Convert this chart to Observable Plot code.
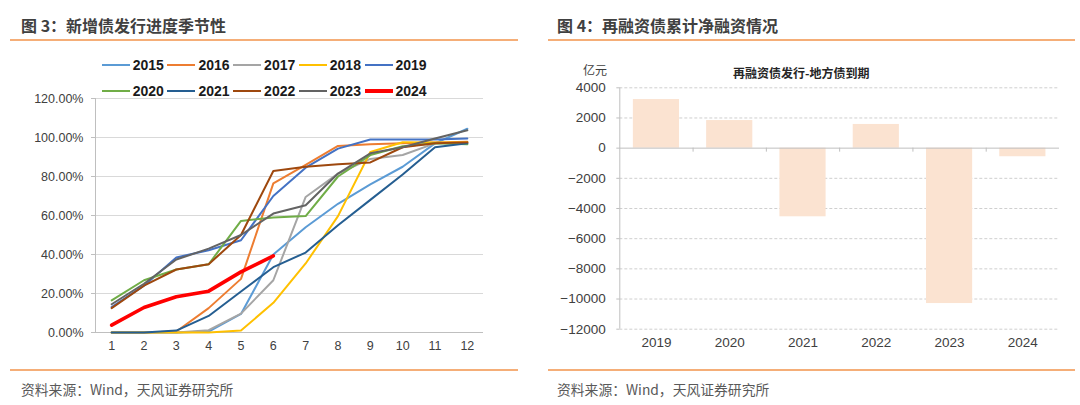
<!DOCTYPE html>
<html><head><meta charset="utf-8">
<script src="https://cdn.jsdelivr.net/npm/d3@7"></script>
<script src="https://cdn.jsdelivr.net/npm/@observablehq/plot@0.6"></script>
<style>
body{margin:0;background:#fff;}
#wrap{position:relative;width:1080px;height:405px;overflow:hidden;font-family:"Liberation Sans","Noto Sans CJK SC",sans-serif;}
.abs{position:absolute;white-space:nowrap;}
.title{font-family:"Noto Sans CJK SC",sans-serif;font-weight:700;font-size:16px;line-height:20px;color:#404040;}
.src{font-family:"Noto Sans CJK SC",sans-serif;font-size:13.8px;line-height:18px;color:#595959;}
.hr{position:absolute;height:2px;background:#F5AE78;}
.leg{position:absolute;display:flex;align-items:center;height:20px;}
.leg .sw{width:28px;margin-right:3px;}
.leg span{font-weight:700;font-size:14px;color:#1a1a1a;}
</style></head><body><div id="wrap"></div>
<script>
// ---------- Left chart data (cumulative issuance progress, %) ----------
const months = [1,2,3,4,5,6,7,8,9,10,11,12];
const seriesYears = ["2015","2016","2017","2018","2019","2020","2021","2022","2023","2024"];
const seriesColors = ["#5B9BD5","#ED7D31","#A5A5A5","#FFC000","#4472C4","#70AD47","#255E91","#9E480E","#636363","#FF0000"];
const v2015 = [0,0,0,0.5,9.5,40,54,66,76,85,97,104.5];
const v2016 = [0,0,0.5,12.5,27.5,76.5,86,95.7,96.6,97,97.5,97.8];
const v2017 = [0,0,0,1.2,9.7,26.8,69.5,81.5,89,91,97,97];
const v2018 = [0,0,0,0,1,15.2,35.4,59.7,92.6,97.6,97.5,97.5];
const v2019 = [13,24,38.5,42.2,47.3,70,84.5,94.3,99,99,99,99.5];
const v2020 = [16.5,26.8,32.3,35,57.2,59,59.7,80,91,95.5,97,96.5];
const v2021 = [0,0,1,8.5,21,33.5,41,55,68,81,95,97];
const v2022 = [12.5,24,32.3,35,50,82.8,85,86.3,87.2,95,97,97.5];
const v2023 = [14.5,25,37.4,43,50,61,65.3,81.5,91.9,95,99.5,103.7];
const v2024 = [3.8,12.8,18.3,21.2,31.1,39.3];
const leftYTicks = [0,20,40,60,80,100,120];

// ---------- Right chart data (net refinancing, 亿元) ----------
const barYears = ["2019","2020","2021","2022","2023","2024"];
const barValues = [3220,1830,-4550,1570,-10300,-570];
const rightYTicks = [-12000,-10000,-8000,-6000,-4000,-2000,0,2000,4000];

const allSeries = [v2015,v2016,v2017,v2018,v2019,v2020,v2021,v2022,v2023,v2024];
const lineRows = [];
seriesYears.forEach((y,k)=>allSeries[k].forEach((v,i)=>lineRows.push({year:y, m:months[i], v})));
const rowsThin = lineRows.filter(d=>d.year!=="2024");
const rowsRed = lineRows.filter(d=>d.year==="2024");

const wrap = document.getElementById("wrap");
function addDiv(cls, style, text){const d=document.createElement("div");d.className=cls;Object.assign(d.style,style);if(text!=null)d.textContent=text;wrap.appendChild(d);return d;}

// Titles, rules, sources
addDiv("abs title",{left:"21px",top:"15px"},"图 3：新增债发行进度季节性");
addDiv("abs title",{left:"557px",top:"15px"},"图 4：再融资债累计净融资情况");
addDiv("hr",{left:"10px",top:"39px",width:"508px"});
addDiv("hr",{left:"548px",top:"39px",width:"527px"});
addDiv("hr",{left:"10px",top:"369px",width:"508px"});
addDiv("hr",{left:"548px",top:"369px",width:"527px"});
addDiv("abs src",{left:"21px",top:"380px"},"资料来源：Wind，天风证券研究所");
addDiv("abs src",{left:"557px",top:"380px"},"资料来源：Wind，天风证券研究所");

// Left chart
const left = Plot.plot({
  width: 530, height: 280,
  marginLeft: 95, marginRight: 47, marginTop: 18, marginBottom: 28,
  style: {background:"transparent", fontSize:"12.5px", fontFamily:"'Liberation Sans','Noto Sans CJK SC',sans-serif", color:"#404040", overflow:"visible"},
  x: {type:"linear", domain:[0.5,12.5]},
  y: {domain:[0,120]},
  color: {domain: seriesYears, range: seriesColors},
  marks: [
    Plot.gridY(leftYTicks, {stroke:"#d9d9d9", strokeOpacity:1}),
    Plot.ruleX([0.5], {stroke:"#bfbfbf"}),
    Plot.ruleY([0], {stroke:"#bfbfbf"}),
    Plot.axisY(leftYTicks, {tickSize:4, tickPadding:8, stroke:"#bfbfbf", fill:"#404040", label:null, tickFormat:d=>d.toFixed(2)+"%"}),
    Plot.axisX(months, {tickSize:0, tickPadding:9, fill:"#404040", label:null, tickFormat:d=>String(d)}),
    Plot.lineY(rowsThin, {x:"m", y:"v", z:"year", stroke:"year", strokeWidth:2}),
    Plot.lineY(rowsRed, {x:"m", y:"v", stroke:"year", strokeWidth:3.6})
  ]
});
Object.assign(left.style,{position:"absolute",left:"0px",top:"80px"});
wrap.appendChild(left);

// Legend
seriesYears.forEach((y,k)=>{
  const item = addDiv("leg",{left:(101.7 + (k%5)*65.7)+"px", top:(k<5?55:81)+"px"});
  const sw = document.createElement("div"); sw.className="sw";
  sw.style.height = (y==="2024"?"3.5px":"2px"); sw.style.background = seriesColors[k];
  const sp = document.createElement("span"); sp.textContent = y;
  item.appendChild(sw); item.appendChild(sp);
});

// Right chart
const barRows = barYears.map((y,i)=>({i, year:y, v:barValues[i]}));
const right = Plot.plot({
  width: 540, height: 280,
  marginLeft: 79.3, marginRight: 21, marginTop: 7.3, marginBottom: 31.3,
  style: {background:"transparent", fontSize:"13.5px", fontFamily:"'Liberation Sans','Noto Sans CJK SC',sans-serif", color:"#404040", overflow:"visible"},
  x: {type:"linear", domain:[0, barYears.length]},
  y: {domain:[-12000,4000]},
  marks: [
    Plot.gridY(rightYTicks.filter(d=>d!==0), {stroke:"#cfcfcf", strokeOpacity:1, strokeDasharray:"3,2"}),
    Plot.rectY(barRows, {x1:d=>d.i+0.185, x2:d=>d.i+0.815, y:"v", fill:"#FBE3D1"}),
    Plot.ruleY([0], {stroke:"#bfbfbf"}),
    Plot.ruleX([0], {stroke:"#bfbfbf"}),
    Plot.ruleX(d3.range(1, barYears.length), {x:d=>d, y1:0, y2:0, insetBottom:-4, stroke:"#bfbfbf"}),
    Plot.axisY(rightYTicks, {tickSize:3, tickPadding:11, stroke:"#bfbfbf", fill:"#404040", label:null, tickFormat:d=>d<0?"−"+Math.abs(d):String(d)}),
    Plot.axisX(barRows.map(d=>d.i+0.5), {tickSize:0, tickPadding:8, fill:"#404040", label:null, tickFormat:d=>barYears[Math.floor(d)]})
  ]
});
Object.assign(right.style,{position:"absolute",left:"540px",top:"80px"});
wrap.appendChild(right);

addDiv("abs",{left:"583px",top:"62px",fontFamily:"'Noto Sans CJK SC',sans-serif",fontSize:"12px",lineHeight:"16px",color:"#404040"},"亿元");
addDiv("abs",{left:"733px",top:"65px",fontFamily:"'Noto Sans CJK SC',sans-serif",fontWeight:"700",fontSize:"12px",lineHeight:"16px",color:"#262626"},"再融资债发行-地方债到期");
</script></body></html>
